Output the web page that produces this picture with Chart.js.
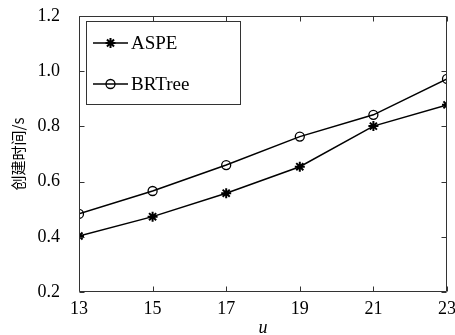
<!DOCTYPE html>
<html><head><meta charset="utf-8">
<script src="https://cdn.jsdelivr.net/npm/chart.js@4/dist/chart.umd.min.js"></script>
<style>html,body{margin:0;padding:0;background:#fff;}#wrap{width:455px;height:335px;}</style>
</head><body><div id="wrap"><canvas id="c" width="455" height="335"></canvas></div>
<script>
const xValues = [13, 15, 17, 19, 21, 23];
const aspe = [0.403, 0.473, 0.558, 0.654, 0.801, 0.878];
const brtree = [0.483, 0.566, 0.660, 0.763, 0.842, 0.972];
const xTicks = [13, 15, 17, 19, 21, 23];
const yTicks = [0.2, 0.4, 0.6, 0.8, 1.0, 1.2];
const seriesNames = ['ASPE', 'BRTree'];
const yTitle = '创建时间/s';
const xTitle = 'u';

const serif = '"Liberation Serif", "Times New Roman", serif';

const frameAndTicks = {
  id: 'frameAndTicks',
  afterDatasetsDraw(chart) {
    const {ctx, chartArea: a, scales: {x, y}} = chart;
    ctx.save();
    ctx.strokeStyle = '#333';
    ctx.lineWidth = 1;
    ctx.beginPath();
    const L = Math.round(a.left) + 0.5, R = Math.round(a.right) - 0.5, T = Math.round(a.top) + 0.5, B = Math.round(a.bottom) - 0.5;
    ctx.rect(L, T, R - L, B - T);
    const tl = 5;
    xTicks.forEach(v => {
      const px = Math.round(x.getPixelForValue(v)) + 0.5;
      ctx.moveTo(px, B); ctx.lineTo(px, B - tl);
      ctx.moveTo(px, T); ctx.lineTo(px, T + tl);
    });
    yTicks.forEach(v => {
      const py = Math.round(y.getPixelForValue(v)) + 0.5;
      ctx.moveTo(L, py); ctx.lineTo(L + tl, py);
      ctx.moveTo(R, py); ctx.lineTo(R - tl, py);
    });
    ctx.stroke();
    ctx.restore();
  }
};

const boxLegend = {
  id: 'boxLegend',
  afterDraw(chart) {
    const {ctx, chartArea: a} = chart;
    ctx.save();
    const bx = a.left + 7, by = a.top + 5, bw = 154, bh = 83;
    ctx.fillStyle = '#fff';
    ctx.fillRect(bx, by, bw, bh);
    ctx.strokeStyle = '#333';
    ctx.lineWidth = 1;
    ctx.strokeRect(Math.round(bx) + 0.5, Math.round(by) + 0.5, bw, bh);
    const rows = [by + 22, by + 63];
    chart.data.datasets.forEach((ds, i) => {
      const yy = rows[i];
      ctx.strokeStyle = '#000';
      ctx.lineWidth = 1.5;
      ctx.beginPath();
      ctx.moveTo(bx + 7, yy); ctx.lineTo(bx + 42, yy);
      ctx.stroke();
      ctx.fillStyle = 'rgba(0,0,0,0)';
      ctx.strokeStyle = '#000';
      ctx.lineWidth = ds.pointBorderWidth;
      Chart.helpers.drawPoint(ctx, {pointStyle: ds.pointStyle, radius: ds.pointRadius, borderWidth: ds.pointBorderWidth, rotation: 0}, bx + 24.5, yy);
      ctx.fillStyle = '#000';
      ctx.font = '19px ' + serif;
      ctx.textBaseline = 'middle';
      ctx.textAlign = 'left';
      ctx.fillText(ds.label, bx + 45, yy + 1);
    });
    ctx.restore();
  }
};

new Chart(document.getElementById('c'), {
  type: 'line',
  data: {
    datasets: [
      {label: seriesNames[0], data: xValues.map((v, i) => ({x: v, y: aspe[i]})), borderColor: '#000', backgroundColor: '#000', borderWidth: 1.5, pointStyle: 'star', pointRadius: 5, pointBorderColor: '#000', pointBorderWidth: 2, tension: 0},
      {label: seriesNames[1], data: xValues.map((v, i) => ({x: v, y: brtree[i]})), borderColor: '#000', backgroundColor: 'rgba(0,0,0,0)', borderWidth: 1.5, pointStyle: 'circle', pointRadius: 4.5, pointBorderColor: '#000', pointBorderWidth: 1.3, tension: 0}
    ]
  },
  options: {
    responsive: false,
    animation: false,
    devicePixelRatio: 1,
    layout: {padding: {top: 16, right: 8, left: 0, bottom: 0}},
    plugins: {legend: {display: false}, tooltip: {enabled: false}},
    scales: {
      x: {
        type: 'linear', min: 13, max: 23,
        afterBuildTicks: s => { s.ticks = xTicks.map(v => ({value: v})); },
        afterFit: s => { s.height = 43; s.paddingLeft = 0; s.paddingRight = 0; },
        grid: {display: false}, border: {display: false},
        ticks: {color: '#000', font: {family: serif, size: 18}, padding: -2, maxRotation: 0},
        title: {display: true, text: xTitle, color: '#000', font: {family: serif, size: 18, style: 'italic'}, padding: {top: 0, bottom: -4}}
      },
      y: {
        min: 0.2, max: 1.2,
        afterBuildTicks: s => { s.ticks = yTicks.map(v => ({value: v})); },
        afterFit: s => { s.width = 79; s.paddingTop = 0; s.paddingBottom = 0; },
        grid: {display: false}, border: {display: false},
        ticks: {color: '#000', font: {family: serif, size: 18}, padding: 11, callback: v => v.toFixed(1)},
        title: {display: true, text: yTitle, color: '#000', font: {family: '"Noto Sans CJK SC", sans-serif', size: 15}, padding: {top: 9, bottom: 0}}
      }
    }
  },
  plugins: [frameAndTicks, boxLegend]
});
</script></body></html>
